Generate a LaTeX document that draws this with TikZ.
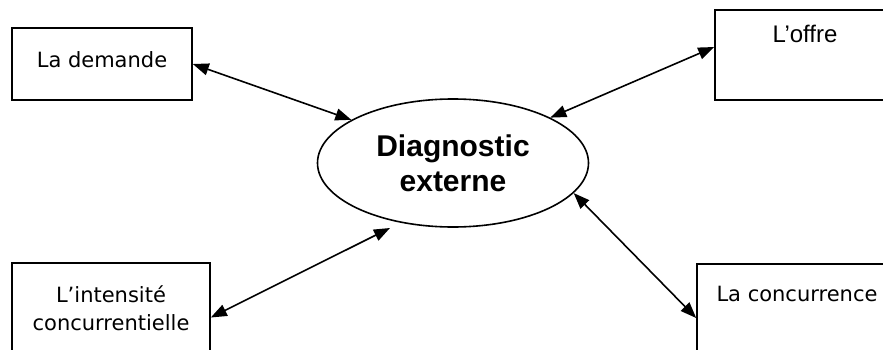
\documentclass[tikz,border=0pt]{standalone}
\usepackage{fontspec}
\setmainfont{Liberation Sans}
\newfontfamily\comicfont{DejaVu Sans}
\usetikzlibrary{arrows.meta,positioning,calc,shapes.geometric}

\begin{document}
\begin{tikzpicture}[x=1pt,y=1pt,
  box/.style={draw,line width=1.6pt,inner sep=0pt},
  comic/.style={font=\comicfont\fontsize{21}{28}\selectfont,align=center,inner sep=0pt},
  link/.style={{Triangle[length=16pt,width=12pt]}-{Triangle[length=16pt,width=12pt]},line width=1.6pt}]
  \useasboundingbox (0,0) rectangle (883,349);
  \clip (0,0) rectangle (883,349);
  % Central ellipse
  \node[draw,ellipse,line width=1.6pt,minimum width=271pt,minimum height=128pt,
    inner sep=0pt,align=center,font=\bfseries\fontsize{30}{35}\selectfont]
    (diag) at (453,186) {Diagnostic\\externe};
  % Boxes
  \node[box,minimum width=180pt,minimum height=72pt] (demande) at (102,285) {};
  \node[comic,anchor=base] (demandetxt) at (102,282) {La demande};
  \node[box,minimum width=180pt,minimum height=90pt] (offre) at (805,294) {};
  \node[anchor=base,inner sep=0pt,font=\fontsize{24}{28}\selectfont] (offretxt) at (805,306) {L’offre};
  \node[box,minimum width=198pt,minimum height=97pt] (intensite) at (111,37.5) {};
  \node[comic,anchor=base] (intensitetxt) at (111,19) {L’intensité\\concurrentielle};
  \node[box,minimum width=200pt,minimum height=96pt] (concurrence) at (797,37) {};
  \node[comic,anchor=base] (concurrencetxt) at (797,48) {La concurrence};
  % Links
  \coordinate (diagsw) at ($(diag.center)+(-63,-65)$);
  \draw[link] (demande.east) -- (diag.157);
  \draw[link] ([yshift=8pt]offre.west) -- (diag.25);
  \draw[link] ([yshift=-6pt]intensite.east) -- (diagsw);
  \draw[link] ([yshift=-6pt]concurrence.west) -- (diag.346);
\end{tikzpicture}
\end{document}
